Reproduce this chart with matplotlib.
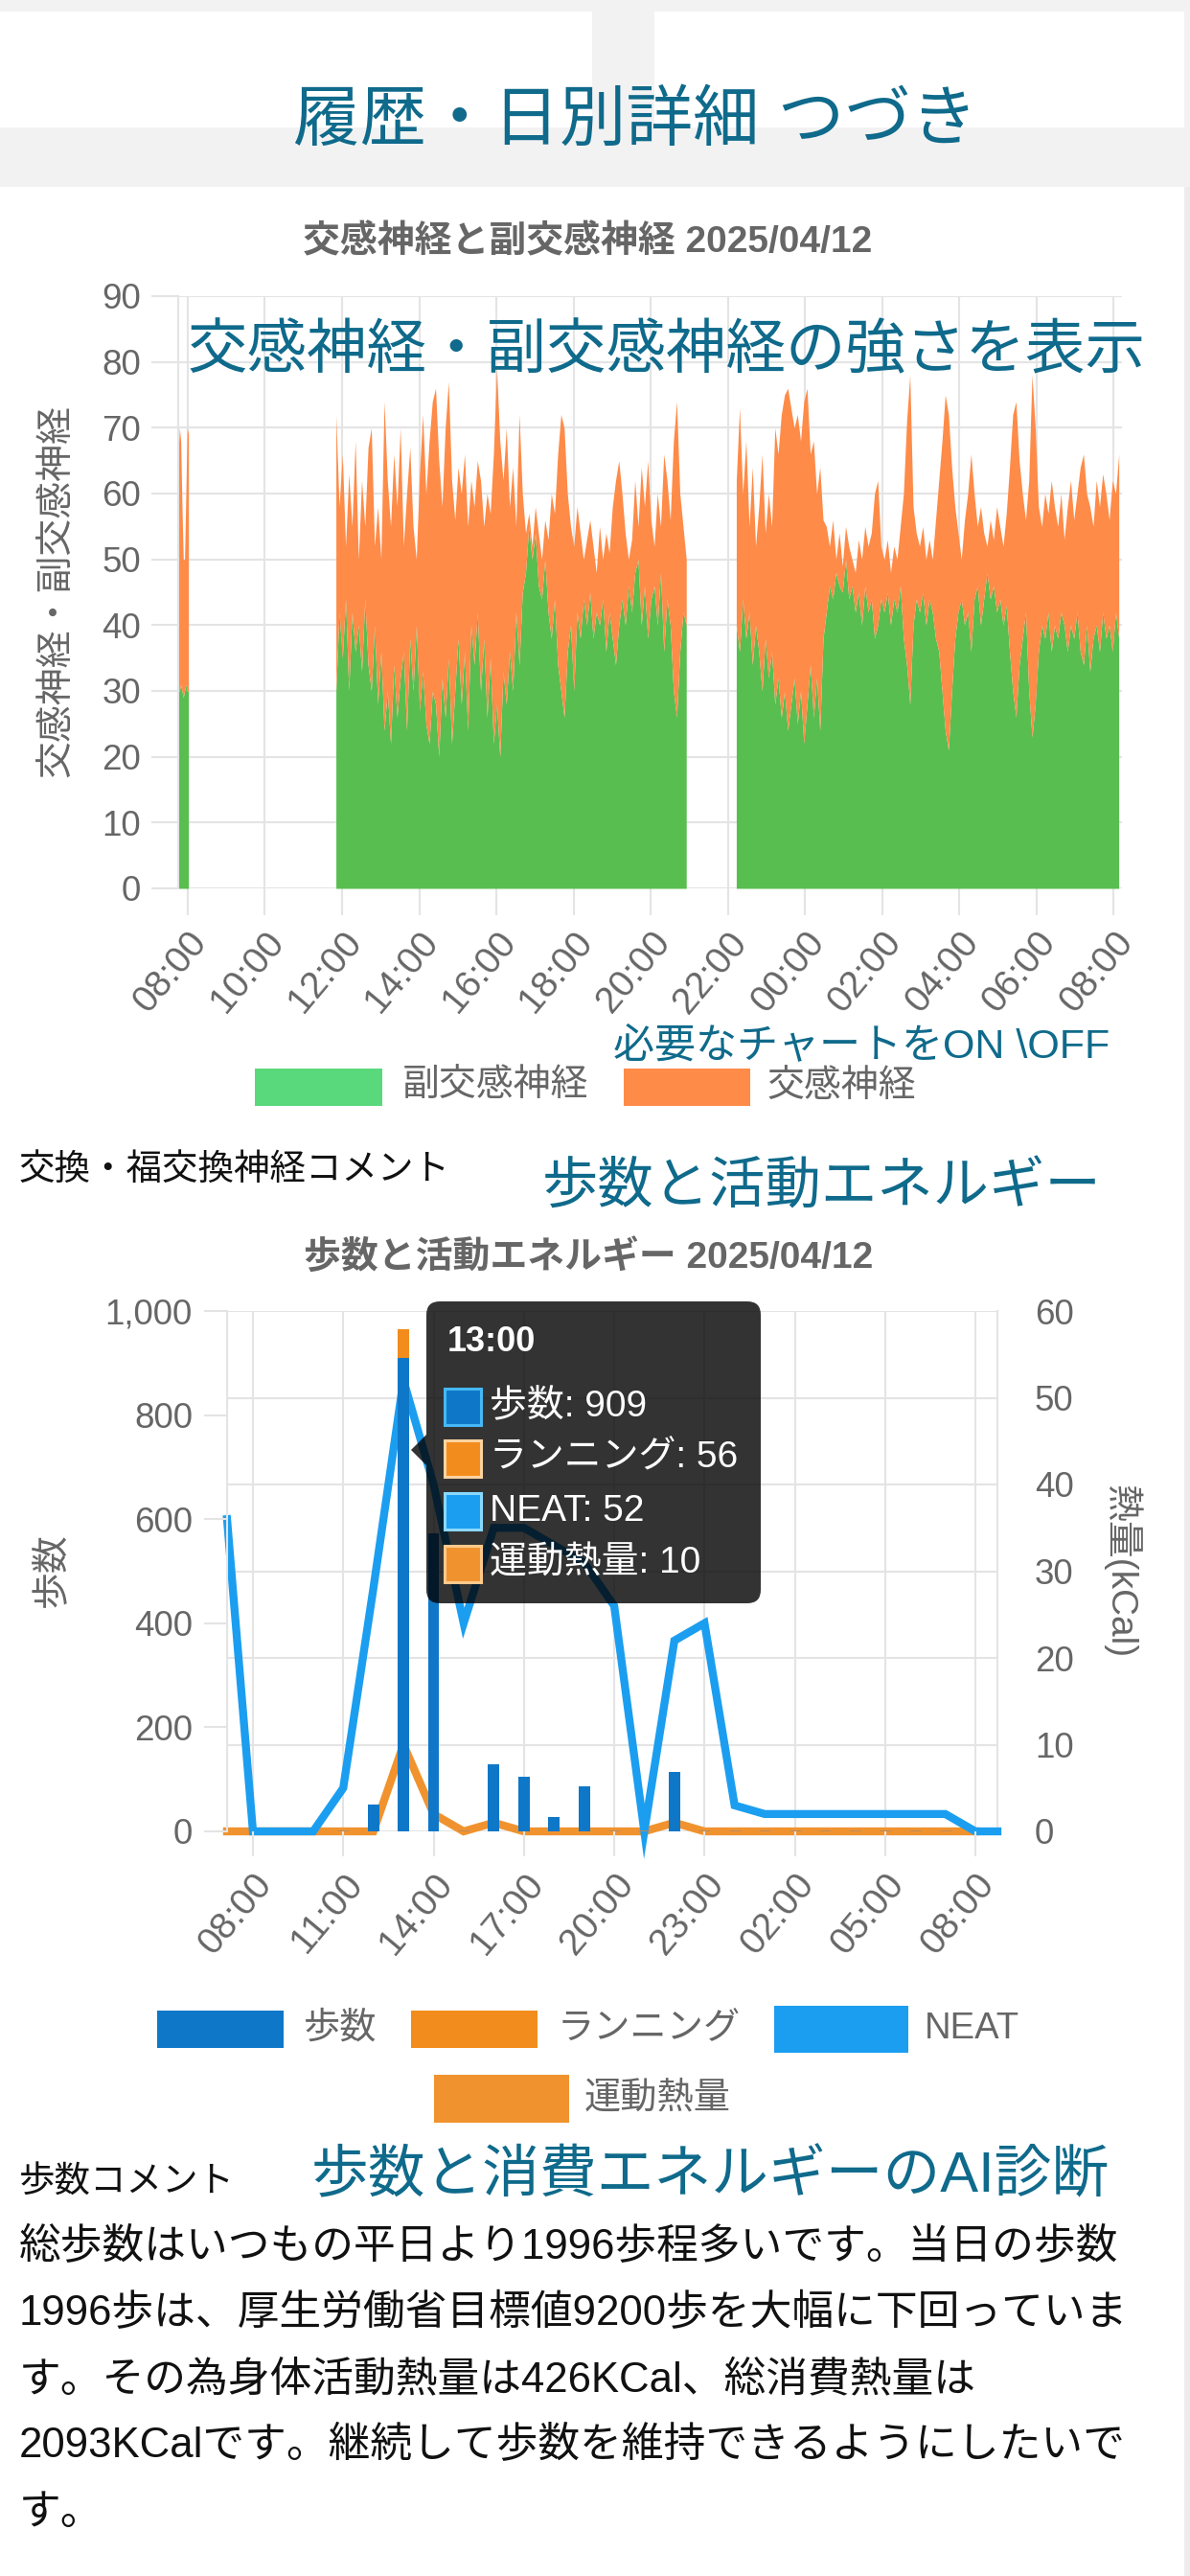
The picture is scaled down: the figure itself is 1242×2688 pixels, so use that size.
import matplotlib
matplotlib.use('Agg')
import matplotlib.pyplot as plt
from matplotlib.patches import Rectangle, FancyBboxPatch, Polygon
import numpy as np

plt.rcParams['font.family'] = ['Liberation Sans', 'Noto Sans CJK JP']

W, H = 1242, 2688

TEAL = '#0f6a8b'
LABEL = '#666666'
GRID = '#e4e4e4'
GREEN = '#58be50'
GREEN_KEY = '#5ad97c'
ORANGE = '#fe8b48'
STEP_BLUE = '#0f77c8'
RUN_ORANGE = '#f28c1c'
NEAT_BLUE = '#1b9ef0'
KCAL_ORANGE = '#f0932f'

# ---- chart 1: 副交感神経 / 交感神経 (stacked), time in hours after 08:00 ----
nerve_ticks = ['08:00', '10:00', '12:00', '14:00', '16:00', '18:00', '20:00',
               '22:00', '00:00', '02:00', '04:00', '06:00', '08:00']

seg1_start, seg1_step = -0.25, 2 / 60
seg1_para = [30, 30, 31, 30, 29, 30, 31, 30, 30]
seg1_symp = [36, 40, 37, 28, 21, 20, 29, 40, 39]

seg2_start, seg2_step = 3.84, 5 / 60
seg2_para = [30, 42, 35, 44, 30, 42, 36, 40, 33, 44,
             34, 30, 40, 28, 36, 24, 30, 22, 34, 26,
             32, 36, 24, 38, 30, 40, 27, 33, 25, 22,
             30, 28, 20, 32, 26, 35, 22, 30, 38, 28,
             36, 24, 40, 34, 42, 30, 38, 26, 35, 22,
             28, 20, 33, 28, 36, 30, 42, 34, 45, 48,
             55, 50, 54, 46, 44, 50, 42, 38, 44, 34,
             30, 26, 36, 40, 30, 42, 38, 44, 40, 45,
             38, 42, 40, 44, 36, 42, 38, 34, 40, 44,
             40, 46, 42, 48, 50, 40, 46, 38, 44, 46,
             40, 48, 36, 44, 40, 30, 26, 36, 42, 40]
seg2_symp = [42, 16, 31, 8, 33, 13, 32, 10, 29, 11,
             33, 40, 12, 30, 14, 50, 32, 33, 32, 32,
             38, 16, 36, 29, 25, 10, 36, 39, 35, 46,
             44, 48, 45, 26, 44, 42, 40, 26, 26, 32,
             30, 31, 22, 24, 23, 32, 17, 34, 22, 44,
             51, 48, 29, 42, 22, 34, 13, 38, 15, 6,
             2, 2, 4, 8, 6, 6, 11, 22, 13, 32,
             42, 44, 24, 15, 22, 16, 16, 6, 13, 11,
             14, 6, 15, 6, 18, 9, 20, 28, 25, 16,
             14, 4, 11, 14, 5, 24, 12, 27, 12, 6,
             20, 7, 30, 18, 16, 38, 48, 24, 13, 10]

seg3_start, seg3_step = 14.22, 5 / 60
seg3_para = [40, 36, 44, 38, 42, 34, 40, 36, 30, 38,
             32, 36, 28, 32, 26, 30, 24, 28, 32, 25,
             30, 22, 28, 34, 26, 32, 24, 38, 42, 46,
             44, 48, 46, 45, 50, 44, 46, 42, 45, 40,
             46, 42, 44, 38, 40, 44, 42, 45, 40, 44,
             42, 46, 38, 34, 28, 40, 44, 42, 45, 40,
             44, 42, 38, 36, 30, 24, 21, 30, 38, 42,
             44, 40, 42, 36, 44, 46, 40, 44, 48, 44,
             46, 42, 44, 40, 43, 36, 30, 26, 34, 38,
             42, 30, 23, 28, 36, 40, 38, 42, 36, 40,
             38, 42, 40, 36, 40, 38, 42, 36, 34, 40,
             33, 38, 40, 36, 42, 38, 40, 36, 42, 38]
seg3_symp = [22, 37, 16, 30, 13, 30, 12, 22, 36, 16,
             28, 19, 42, 34, 46, 45, 52, 45, 38, 47,
             38, 52, 48, 32, 42, 28, 40, 18, 13, 6,
             12, 2, 8, 4, 5, 8, 4, 6, 8, 10,
             9, 10, 10, 22, 22, 8, 8, 8, 8, 8,
             8, 9, 22, 37, 50, 18, 10, 10, 10, 10,
             9, 8, 18, 26, 38, 51, 51, 34, 20, 12,
             6, 16, 18, 30, 16, 9, 18, 10, 4, 12,
             7, 16, 11, 12, 14, 28, 42, 48, 31, 22,
             14, 32, 55, 42, 22, 15, 22, 15, 26, 18,
             17, 18, 13, 22, 22, 18, 18, 28, 32, 20,
             25, 17, 22, 22, 21, 22, 16, 26, 18, 28]

# ---- chart 2: 歩数と活動エネルギー, hourly (hours after 08:00) ----
act_hours = [-0.86, 0, 1, 2, 3, 4, 5, 6, 7, 8, 9, 10, 11, 12, 13, 14, 15,
             16, 17, 18, 19, 20, 21, 22, 23, 24, 24.73]
act_ticks = ['08:00', '11:00', '14:00', '17:00', '20:00', '23:00',
             '02:00', '05:00', '08:00']
steps = [None, None, None, None, 0, 52, 909, 573, 0, 128, 105, 28, 87, 0,
         0, 114, 0, 0, 0, 0, 0, 0, 0, 0, 0, None, None]
running = [None, None, None, None, 0, 0, 56, 0, 0, 0, 0, 0, 0, 0,
           0, 0, 0, 0, 0, 0, 0, 0, 0, 0, 0, None, None]
neat = [36, 0, 0, 0, 5, 28, 52, 40, 24, 35, 35, 33, 31, 26, 0, 22, 24,
        3, 2, 2, 2, 2, 2, 2, 2, 0, 0]
exercise = [0, 0, 0, 0, 0, 0, 10, 2, 0, 1, 0, 0, 0, 0, 0, 1, 0,
            0, 0, 0, 0, 0, 0, 0, 0, 0, None]

tooltip_title = '13:00'
tooltip_rows = ['歩数: 909', 'ランニング: 56', 'NEAT: 52', '運動熱量: 10']

comment_lines = [
    '総歩数はいつもの平日より1996歩程多いです。当日の歩数',
    '1996歩は、厚生労働省目標値9200歩を大幅に下回っていま',
    'す。その為身体活動熱量は426KCal、総消費熱量は',
    '2093KCalです。継続して歩数を維持できるようにしたいで',
    'す。',
]


def rect(x0, y0, x1, y1):
    # pixel box (origin top-left) -> figure fraction
    return [x0 / W, 1 - y1 / H, (x1 - x0) / W, (y1 - y0) / H]


fig = plt.figure(figsize=(W / 100, H / 100), dpi=100)
fig.patch.set_facecolor('white')

# background pieces of the app screen
bg = fig.add_axes([0, 0, 1, 1], zorder=-10)
bg.set_xlim(0, W)
bg.set_ylim(H, 0)
bg.axis('off')
bg.add_patch(Rectangle((0, 0), W, 195, color='#f2f2f2', lw=0))
bg.add_patch(Rectangle((0, 12), 618, 121, color='white', lw=0))
bg.add_patch(Rectangle((683, 12), 553, 121, color='white', lw=0))
bg.add_patch(Rectangle((1236, 195), 6, H - 195, color='#ececec', lw=0))

# ---------------- chart 1 ----------------
ax1 = fig.add_axes(rect(186, 309, 1171, 927))
for t0, dt, para, symp in [(seg1_start, seg1_step, seg1_para, seg1_symp),
                           (seg2_start, seg2_step, seg2_para, seg2_symp),
                           (seg3_start, seg3_step, seg3_para, seg3_symp)]:
    t = t0 + np.arange(len(para)) * dt
    p = np.array(para, dtype=float)
    s = np.array(symp, dtype=float)
    ax1.fill_between(t, 0, p, color=GREEN, lw=0)
    ax1.fill_between(t, p, p + s, color=ORANGE, lw=0)

ax1.set_xlim(-0.248, 24.22)
ax1.set_ylim(0, 90)
ax1.set_yticks(range(0, 91, 10))
ax1.set_xticks(range(0, 25, 2))
ax1.set_xticklabels(nerve_ticks, rotation=50, ha='right', va='top',
                    rotation_mode='anchor')
ax1.grid(True, color=GRID, lw=1.5)
ax1.set_axisbelow(True)
ax1.tick_params(axis='y', length=20, width=1.5, color=GRID, labelsize=26.5,
                labelcolor=LABEL, pad=8)
ax1.tick_params(axis='x', length=20, width=1.5, color=GRID, labelsize=28,
                labelcolor=LABEL, pad=8)
for sp in ['top', 'right', 'bottom']:
    ax1.spines[sp].set_visible(False)
ax1.spines['left'].set_color(GRID)
ax1.spines['left'].set_linewidth(1.5)

# ---------------- chart 2 ----------------
ax2 = fig.add_axes(rect(237, 1368, 1041, 1911))
ax2r = ax2.twinx()
ax2r.set_zorder(1)
ax2.set_zorder(2)
ax2.patch.set_visible(False)
ax2r.patch.set_visible(False)

neat_arr = np.array(neat, dtype=float)
kcal_arr = np.array(exercise, dtype=float)
ax2r.plot(act_hours, kcal_arr, color=KCAL_ORANGE, lw=6, clip_on=False,
          solid_joinstyle='miter', zorder=2)
ax2r.plot(act_hours, neat_arr, color=NEAT_BLUE, lw=6, clip_on=False,
          solid_joinstyle='miter', zorder=3)

bar_h = [h for h, s in zip(act_hours, steps) if s is not None]
bar_s = [s for s in steps if s is not None]
bar_r = [r for r in running if r is not None]
edges = ['#b98a62' if s == 0 else 'none' for s in bar_s]
ax2.bar(bar_h, bar_s, width=0.38, color=STEP_BLUE, edgecolor=edges,
        linewidth=2, zorder=3)
ax2.bar(bar_h, bar_r, bottom=bar_s, width=0.38, color=RUN_ORANGE,
        linewidth=0, zorder=3)

ax2.set_xlim(-0.859, 24.73)
ax2.set_ylim(0, 1000)
ax2r.set_ylim(0, 60)
ax2.set_yticks(range(0, 1001, 200))
ax2.set_yticklabels([f'{v:,}' for v in range(0, 1001, 200)])
ax2r.set_yticks(range(0, 61, 10))
ax2.set_xticks(range(0, 25, 3))
ax2.set_xticklabels(act_ticks, rotation=50, ha='right', va='top',
                    rotation_mode='anchor')

ax2r.xaxis.set_visible(True)
ax2r.tick_params(axis='x', which='both', bottom=False, top=False,
                 labelbottom=False, labeltop=False)
ax2r.grid(True, axis='both', color=GRID, lw=1.5)
ax2r.set_axisbelow(True)
ax2.tick_params(axis='y', length=17, width=1.5, color=GRID, labelsize=26.5,
                labelcolor=LABEL, pad=9)
ax2.tick_params(axis='x', length=19, width=1.5, color=GRID, labelsize=28,
                labelcolor=LABEL, pad=8)
ax2r.tick_params(axis='y', length=0, labelsize=26.5, labelcolor=LABEL, pad=28)
for a in (ax2, ax2r):
    for sp in ['top', 'bottom']:
        a.spines[sp].set_visible(False)
ax2.spines['right'].set_visible(False)
ax2r.spines['left'].set_visible(False)
ax2.spines['left'].set_color(GRID)
ax2.spines['left'].set_linewidth(1.5)
ax2r.spines['right'].set_color(GRID)
ax2r.spines['right'].set_linewidth(1.5)

# ---------------- overlay: texts, legends, tooltip ----------------
fg = fig.add_axes([0, 0, 1, 1], zorder=10)
fg.set_xlim(0, W)
fg.set_ylim(H, 0)
fg.axis('off')

fg.text(663, 128, '履歴・日別詳細 つづき', color=TEAL, fontsize=50,
        ha='center', va='center')
fg.text(613, 253, '交感神経と副交感神経 2025/04/12', color=LABEL, fontsize=28,
        fontweight='bold', ha='center', va='center')
fg.text(196, 368, '交感神経・副交感神経の強さを表示', color=TEAL, fontsize=45,
        ha='left', va='center')
fg.text(60, 617, '交感神経・副交感神経', color=LABEL, fontsize=28,
        rotation=90, ha='center', va='center')
fg.text(1158, 1092, '必要なチャートをON \\OFF', color=TEAL, fontsize=31,
        ha='right', va='center')

# chart 1 legend
fg.add_patch(Rectangle((266, 1115), 133, 39, color=GREEN_KEY, lw=0))
fg.text(420, 1134, '副交感神経', color=LABEL, fontsize=28, ha='left', va='center')
fg.add_patch(Rectangle((651, 1115), 132, 39, color=ORANGE, lw=0))
fg.text(800, 1134, '交感神経', color=LABEL, fontsize=28, ha='left', va='center')

fg.text(20, 1221, '交換・福交換神経コメント', color='#111111', fontsize=27,
        ha='left', va='center')
fg.text(566, 1240, '歩数と活動エネルギー', color=TEAL, fontsize=42,
        ha='left', va='center')
fg.text(614, 1312, '歩数と活動エネルギー 2025/04/12', color=LABEL, fontsize=28,
        fontweight='bold', ha='center', va='center')
fg.text(55, 1638, '歩数', color=LABEL, fontsize=28, rotation=90,
        ha='center', va='center')
fg.text(1171, 1640, '熱量(kCal)', color=LABEL, fontsize=28, rotation=270,
        ha='center', va='center')

# chart 2 legend
fg.add_patch(Rectangle((164, 2098), 132, 39, color=STEP_BLUE, lw=0))
fg.text(317, 2117, '歩数', color=LABEL, fontsize=27.5, ha='left', va='center')
fg.add_patch(Rectangle((429, 2098), 132, 39, color=RUN_ORANGE, lw=0))
fg.text(582, 2117, 'ランニング', color=LABEL, fontsize=27.5, ha='left', va='center')
fg.add_patch(Rectangle((808, 2093), 140, 49, color=NEAT_BLUE, lw=0))
fg.text(965, 2117, 'NEAT', color=LABEL, fontsize=27.5, ha='left', va='center')
fg.add_patch(Rectangle((453, 2165), 141, 50, color=KCAL_ORANGE, lw=0))
fg.text(610, 2190, '運動熱量', color=LABEL, fontsize=27.5, ha='left', va='center')

# tooltip
fg.add_patch(FancyBboxPatch((445, 1358), 349, 315,
                            boxstyle='round,pad=0,rounding_size=14',
                            facecolor=(0, 0, 0, 0.8), lw=0))
fg.add_patch(Polygon([(445, 1497), (429, 1513), (445, 1529)],
                     closed=True, facecolor=(0, 0, 0, 0.8), lw=0))
fg.text(467, 1401, tooltip_title, color='white', fontsize=26,
        fontweight='bold', ha='left', va='center')
box_faces = [STEP_BLUE, RUN_ORANGE, NEAT_BLUE, KCAL_ORANGE]
box_edges = ['#45b8f5', '#ffd3a0', '#8ad8ff', '#ffc98a']
row_y = [1468, 1522, 1577, 1632]
for txt, fc, ec, yc in zip(tooltip_rows, box_faces, box_edges, row_y):
    fg.add_patch(Rectangle((464, yc - 19), 38, 38, facecolor=fc,
                           edgecolor=ec, lw=2.2))
    fg.text(511, yc, txt, color='white', fontsize=28, ha='left', va='center')

# comment section
fg.text(20, 2277, '歩数コメント', color='#111111', fontsize=27,
        ha='left', va='center')
fg.text(325, 2271, '歩数と消費エネルギーのAI診断', color=TEAL, fontsize=43,
        ha='left', va='center')
for i, line in enumerate(comment_lines):
    fg.text(20, 2345 + i * 69.3, line, color='#111111', fontsize=31.5,
            ha='left', va='center')

fig.savefig('out.png', dpi=100)
